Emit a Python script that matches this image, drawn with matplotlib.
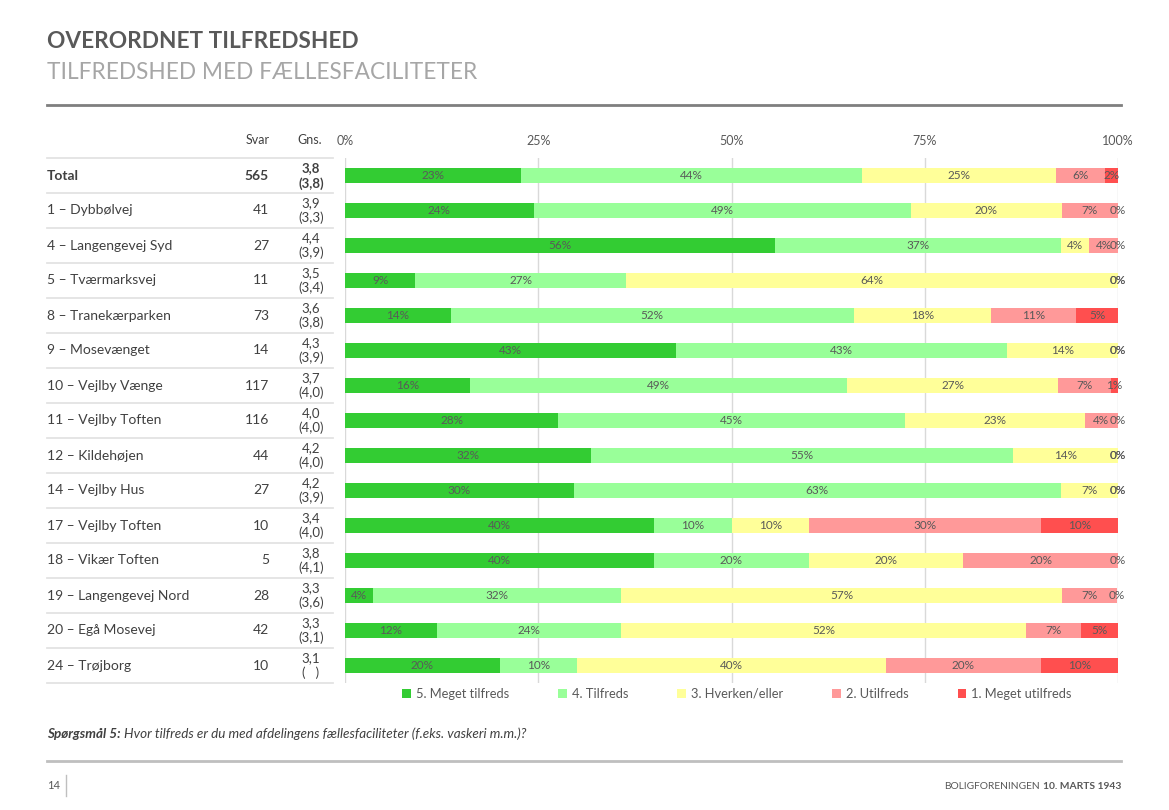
import matplotlib.pyplot as plt
from matplotlib.transforms import blended_transform_factory
from matplotlib.patches import Patch

plt.rcParams['font.family'] = ['Lato', 'DejaVu Sans']

# data
afdelinger = ['Total', '1 – Dybbølvej', '4 – Langengevej Syd', '5 – Tværmarksvej',
              '8 – Tranekærparken', '9 – Mosevænget', '10 – Vejlby Vænge',
              '11 – Vejlby Toften', '12 – Kildehøjen', '14 – Vejlby Hus',
              '17 – Vejlby Toften', '18 – Vikær Toften', '19 – Langengevej Nord',
              '20 – Egå Mosevej', '24 – Trøjborg']
svar = [565, 41, 27, 11, 73, 14, 117, 116, 44, 27, 10, 5, 28, 42, 10]
gns = ['3,8', '3,9', '4,4', '3,5', '3,6', '4,3', '3,7', '4,0', '4,2', '4,2',
       '3,4', '3,8', '3,3', '3,3', '3,1']
gns_tidl = ['(3,8)', '(3,3)', '(3,9)', '(3,4)', '(3,8)', '(3,9)', '(4,0)', '(4,0)',
            '(4,0)', '(3,9)', '(4,0)', '(4,1)', '(3,6)', '(3,1)', '(   )']

kategorier = ['5. Meget tilfreds', '4. Tilfreds', '3. Hverken/eller',
              '2. Utilfreds', '1. Meget utilfreds']
farver = ['#33cc33', '#99ff99', '#ffff99', '#ff9999', '#ff4f4f']

meget_tilfreds = [22.8, 24.4, 55.6, 9.1, 13.7, 42.8, 16.2, 27.6, 31.8, 29.6, 40, 40, 3.6, 11.9, 20]
tilfreds = [44.1, 48.8, 37.0, 27.3, 52.1, 42.9, 48.7, 44.8, 54.6, 63.0, 10, 20, 32.1, 23.8, 10]
hverken = [25.1, 19.5, 3.7, 63.6, 17.8, 14.3, 27.4, 23.3, 13.6, 7.4, 10, 20, 57.1, 52.4, 40]
utilfreds = [6.3, 7.3, 3.7, 0, 11.0, 0, 6.8, 4.3, 0, 0, 30, 20, 7.1, 7.1, 20]
meget_utilfreds = [1.7, 0, 0, 0, 5.4, 0, 0.9, 0, 0, 0, 10, 0, 0, 4.8, 10]
serier = [meget_tilfreds, tilfreds, hverken, utilfreds, meget_utilfreds]

W, H = 1169, 810
graa = '#595959'
fig = plt.figure(figsize=(W / 100, H / 100), dpi=100)

# baggrunds-akse i pixel-koordinater til tekst og linjer
bg = fig.add_axes([0, 0, 1, 1], zorder=-1)
bg.set_xlim(0, W)
bg.set_ylim(H, 0)
bg.axis('off')

# selve søjlediagrammet
ax = fig.add_axes([345 / W, 1 - 683 / H, 773 / W, 525 / H])
ax.patch.set_alpha(0)
y = list(range(len(afdelinger)))
venstre = [0] * len(afdelinger)
for navn, vals, farve in zip(kategorier, serier, farver):
    bars = ax.barh(y, vals, left=venstre, height=0.43, color=farve, label=navn)
    lbl = ax.bar_label(bars, labels=[f'{int(v + 0.5)}%' for v in vals], label_type='center',
                       fontsize=8.5, color=graa)
    for t in lbl:
        t.set_annotation_clip(False)
    venstre = [a + b for a, b in zip(venstre, vals)]

ax.set_xlim(0, 100)
ax.set_ylim(len(afdelinger) - 0.5, -0.5)
ax.set_xticks([0, 25, 50, 75, 100])
ax.set_xticklabels(['0%', '25%', '50%', '75%', '100%'])
ax.xaxis.tick_top()
ax.tick_params(axis='x', length=0, pad=8, labelsize=9, labelcolor=graa)
ax.set_yticks([])
ax.set_axisbelow(True)
ax.grid(axis='x', color='#d9d9d9', lw=1)
for s in ax.spines.values():
    s.set_visible(False)

# tabel til venstre
tr = blended_transform_factory(bg.transData, ax.transData)
bg.text(270, 140, 'Svar', ha='right', va='center', fontsize=9, color='#404040')
bg.text(322, 140, 'Gns.', ha='right', va='center', fontsize=9, color='#404040')
for i, navn in enumerate(afdelinger):
    vaegt = 'bold' if i == 0 else 'normal'
    bg.text(47, i, navn, transform=tr, ha='left', va='center', fontsize=10,
            color='#404040', weight=vaegt)
    bg.text(269, i, str(svar[i]), transform=tr, ha='right', va='center', fontsize=10,
            color='#404040', weight=vaegt)
    bg.text(311, i - 0.22, gns[i], transform=tr, ha='center', va='center', fontsize=9.5,
            color='#404040', weight=vaegt)
    bg.text(311, i + 0.22, gns_tidl[i], transform=tr, ha='center', va='center', fontsize=9.5,
            color='#404040', weight=vaegt)
for i in range(len(afdelinger) + 1):
    bg.plot([47, 333], [i - 0.5, i - 0.5], transform=tr, color='#e3e3e3', lw=1.3,
            clip_on=False)

# overskrifter
bg.text(47, 48, 'OVERORDNET TILFREDSHED', fontsize=16.3, weight='bold', color=graa)
bg.text(47, 79, 'TILFREDSHED MED FÆLLESFACILITETER', fontsize=16.3, color='#a6a6a6')
bg.plot([47, 1121], [105, 105], color='#7f7f7f', lw=2)

# signaturforklaring
handles = [Patch(facecolor=f, edgecolor='none') for f in farver]
leg = fig.legend(handles, kategorier, loc='center', bbox_to_anchor=(737 / W, 1 - 694 / H),
                 ncol=5, frameon=False, fontsize=9.3, handlelength=0.65, handleheight=0.65,
                 handletextpad=0.4, columnspacing=3.8)
for t in leg.get_texts():
    t.set_color(graa)

# spørgsmål og sidefod
fig.canvas.draw()
r = fig.canvas.get_renderer()
t1 = bg.text(47, 738, 'Spørgsmål 5:', fontsize=9.7, style='italic', weight='bold', color='#404040')
bb = t1.get_window_extent(r)
x2 = bg.transData.inverted().transform((bb.x1, 0))[0]
bg.text(x2 + 3, 738, 'Hvor tilfreds er du med afdelingens fællesfaciliteter (f.eks. vaskeri m.m.)?',
        fontsize=9.7, style='italic', color='#404040')
bg.plot([47, 1121], [761, 761], color='#bfbfbf', lw=2)

bg.text(47, 789, '14', fontsize=8, color=graa)
bg.plot([66, 66], [775, 796], color='#bfbfbf', lw=1)
t3 = bg.text(1121, 789, '10. MARTS 1943', fontsize=7.4, weight='bold', color=graa, ha='right')
bb = t3.get_window_extent(r)
x3 = bg.transData.inverted().transform((bb.x0, 0))[0]
bg.text(x3 - 3, 789, 'BOLIGFORENINGEN', fontsize=7.4, color=graa, ha='right')

fig.savefig('out.png', dpi=100)
